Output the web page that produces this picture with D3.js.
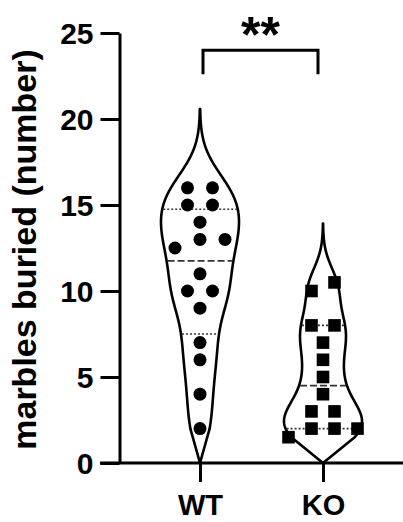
<!DOCTYPE html>
<html>
<head>
<meta charset="utf-8">
<script src="https://cdn.jsdelivr.net/npm/d3@7"></script>
<style>
  body { margin: 0; background: #fff; }
  svg text { font-family: "Liberation Sans", Arial, sans-serif; font-weight: bold; fill: #000; }
</style>
</head>
<body>
<div id="chart"></div>
<script>
// data
const groups = ["WT", "KO"];
const wtValues = [16, 16, 15, 15, 14, 13, 13, 12.5, 11, 10, 10, 9, 7, 6, 4, 2];
const koValues = [10.5, 10, 8, 8, 7, 6, 5, 4, 3, 3, 2, 2, 2, 1.5];
const yTicks = [0, 5, 10, 15, 20, 25];
const yLabel = "marbles buried (number)";
const sigLabel = "**";

const width = 403, height = 522;

const svg = d3.select("#chart").append("svg")
    .attr("width", width)
    .attr("height", height);

// scales
const y = d3.scaleLinear().domain([0, 25]).range([463, 33]);
const x = d3.scalePoint().domain(groups).range([200, 323]);

const series = [
    {name: "WT", values: wtValues, shape: "circle", step: 25},
    {name: "KO", values: koValues, shape: "square", step: 23}
];

// quartile by (n+1)p rule, like Prism
function quant(sorted, p) {
    let pos = (sorted.length + 1) * p - 1;
    let lo = Math.floor(pos), hi = Math.ceil(pos);
    lo = Math.max(0, Math.min(sorted.length - 1, lo));
    hi = Math.max(0, Math.min(sorted.length - 1, hi));
    return sorted[lo] + (pos - Math.floor(pos)) * (sorted[hi] - sorted[lo]);
}

const maxHalf = 39;

series.forEach(s => {
    let sorted = s.values.slice().sort((a, b) => a - b);
    let sd = d3.deviation(sorted);
    let iqr = d3.quantile(sorted, 0.75) - d3.quantile(sorted, 0.25);
    let h = 0.7 * 0.9 * Math.min(sd, iqr / 1.34) * Math.pow(sorted.length, -0.2);
    let dens = v => d3.sum(sorted, d => Math.exp(-0.5 * ((v - d) / h) ** 2));
    let top = d3.max(sorted) + 2.95 * h;
    let grid = d3.range(d3.min(sorted), top, 0.05).concat([top]);
    let pts = grid.map(v => ({v: v, d: dens(v)}));
    let maxD = d3.max(pts, p => p.d);
    pts.forEach(p => p.w = p.d / maxD * maxHalf);
    // close down to the axis at the centre
    pts.unshift({v: 0, w: 0});
    s.pts = pts;
    s.sorted = sorted;
    s.quart = [quant(sorted, 0.25), quant(sorted, 0.5), quant(sorted, 0.75)];
    s.halfAt = v => {
        let i = d3.bisector(p => p.v).left(pts, v);
        if (i <= 0) return pts[0].w;
        if (i >= pts.length) return pts[pts.length - 1].w;
        let a = pts[i - 1], b = pts[i];
        return a.w + (b.w - a.w) * (v - a.v) / (b.v - a.v);
    };
});

// violins
const area = d3.area()
    .y(p => y(p.v))
    .curve(d3.curveLinear);

series.forEach(s => {
    let cx = x(s.name);
    svg.append("path")
        .datum(s.pts)
        .attr("d", area.x0(p => cx - p.w).x1(p => cx + p.w))
        .attr("fill", "#fff")
        .attr("stroke", "#000")
        .attr("stroke-width", 2.6)
        .attr("stroke-linejoin", "round");

    // quartile lines
    s.quart.forEach((q, i) => {
        let hw = s.halfAt(q) - 1;
        svg.append("line")
            .attr("x1", cx - hw).attr("x2", cx + hw)
            .attr("y1", y(q)).attr("y2", y(q))
            .attr("stroke", "#333")
            .attr("stroke-width", 1.6)
            .attr("stroke-dasharray", i === 1 ? "7,3" : "2,2");
    });
});

// points, spread sideways where values are close together
series.forEach(s => {
    let cx = x(s.name);
    let desc = s.values.slice().sort((a, b) => b - a);
    let rows = [];
    desc.forEach(v => {
        let last = rows[rows.length - 1];
        if (last && last[0] - v <= 0.5) last.push(v);
        else rows.push([v]);
    });
    let placed = [];
    rows.forEach(r => {
        r.slice().sort((a, b) => a - b).forEach((v, i) => {
            placed.push({v: v, dx: (i - (r.length - 1) / 2) * s.step});
        });
    });
    if (s.shape === "circle") {
        svg.selectAll(".dot-" + s.name)
            .data(placed).enter()
            .append("circle")
            .attr("cx", d => cx + d.dx)
            .attr("cy", d => y(d.v))
            .attr("r", 6.5)
            .attr("fill", "#000");
    } else {
        svg.selectAll(".dot-" + s.name)
            .data(placed).enter()
            .append("rect")
            .attr("x", d => cx + d.dx - 6.3)
            .attr("y", d => y(d.v) - 6.3)
            .attr("width", 12.6)
            .attr("height", 12.6)
            .attr("fill", "#000");
    }
});

// y axis
const yAxis = svg.append("g")
    .attr("transform", "translate(119.5,0)")
    .call(d3.axisLeft(y).tickValues(yTicks).tickSize(19).tickSizeOuter(0).tickPadding(7));
yAxis.select(".domain").attr("stroke-width", 3);
yAxis.selectAll(".tick line").attr("stroke-width", 3);
yAxis.selectAll(".tick text")
    .style("font-size", "30px")
    .attr("dy", "0.36em");

// x axis
svg.append("line")
    .attr("x1", 100).attr("x2", width)
    .attr("y1", y(0)).attr("y2", y(0))
    .attr("stroke", "#000")
    .attr("stroke-width", 3);
const xAxis = svg.append("g")
    .attr("transform", `translate(0,${y(0)})`)
    .call(d3.axisBottom(x).tickSize(19).tickSizeOuter(0).tickPadding(12));
xAxis.select(".domain").remove();
xAxis.selectAll(".tick line").attr("stroke-width", 3);
xAxis.selectAll(".tick text")
    .style("font-size", "29px")
    .attr("dy", "0.71em");

// y label
svg.append("text")
    .attr("transform", `translate(36,${249.5}) rotate(-90)`)
    .attr("text-anchor", "middle")
    .style("font-size", "34px")
    .text(yLabel);

// significance bracket
const bx1 = x("WT") + 3, bx2 = x("KO") - 5;
svg.append("path")
    .attr("d", `M${bx1},${y(22.6)}V${y(24)}H${bx2}V${y(22.6)}`)
    .attr("fill", "none")
    .attr("stroke", "#000")
    .attr("stroke-width", 3);
svg.append("text")
    .attr("x", (bx1 + bx2) / 2)
    .attr("y", 52)
    .attr("text-anchor", "middle")
    .style("font-size", "50px")
    .text(sigLabel);
</script>
</body>
</html>
